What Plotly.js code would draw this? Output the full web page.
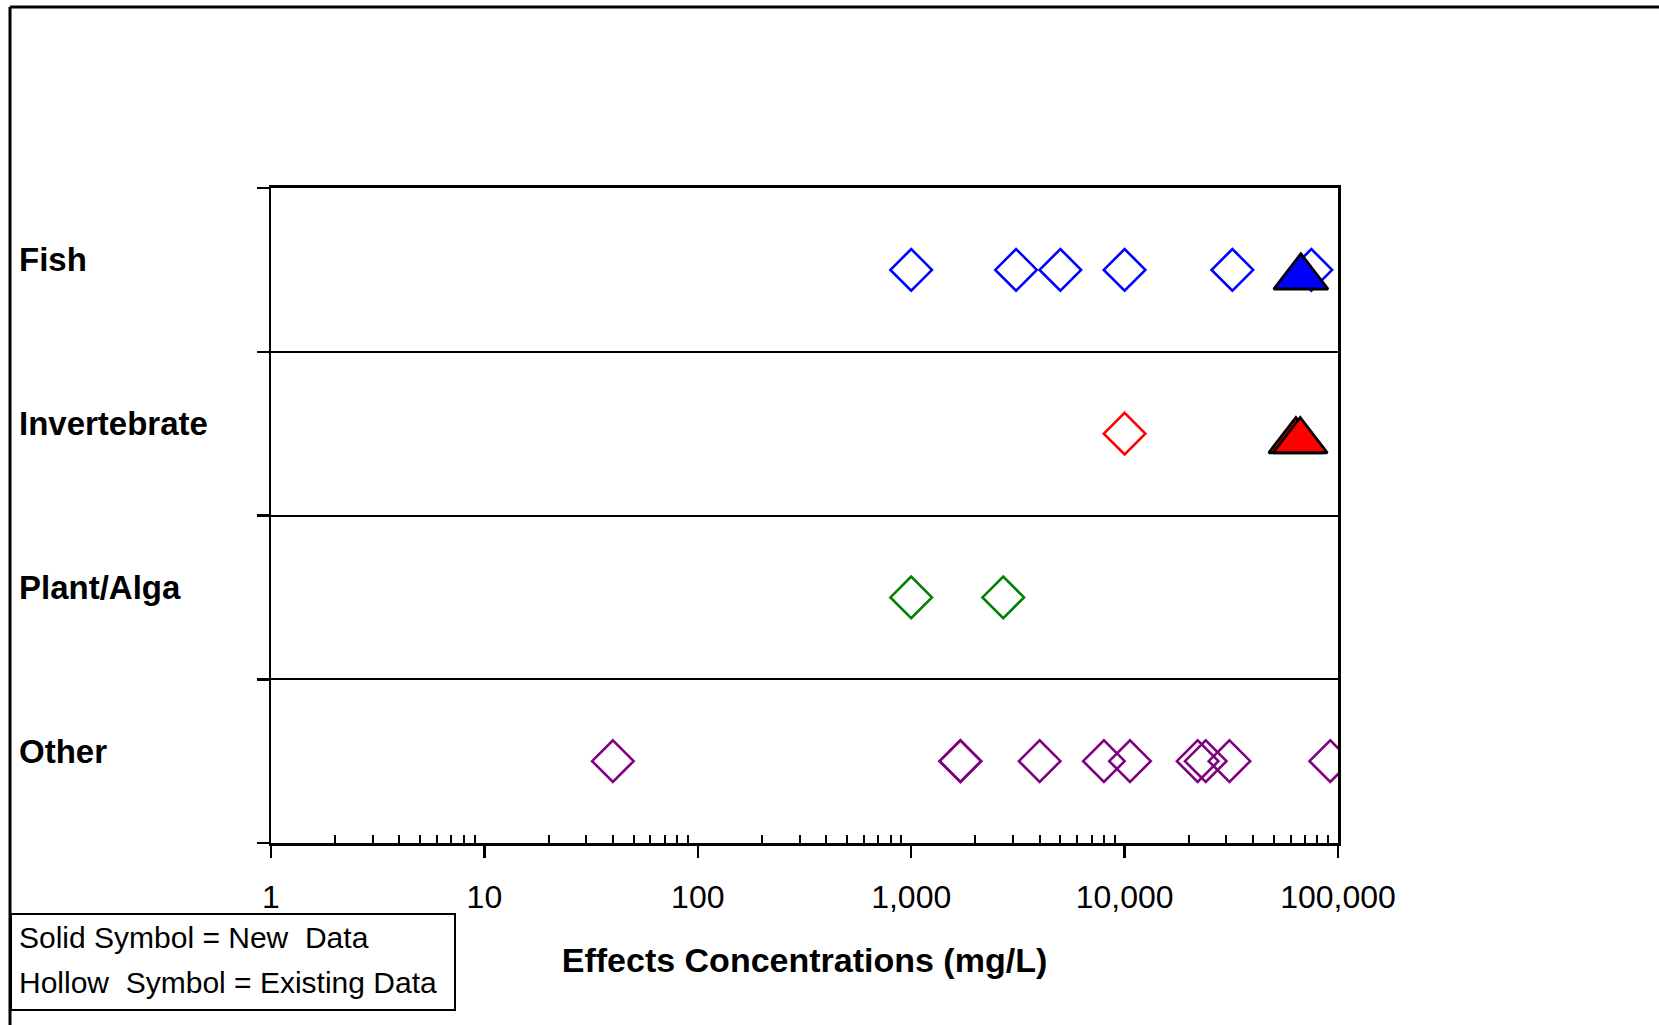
<!DOCTYPE html>
<html>
<head>
<meta charset="utf-8">
<script src="https://cdn.plot.ly/plotly-3.0.1.min.js"></script>
<style>html,body{margin:0;padding:0;background:#fff;}#chart{width:1659px;height:1025px;}</style>
</head>
<body>
<div id="chart"></div>
<script>
// ---- data ----
const categories = ["Fish", "Invertebrate", "Plant/Alga", "Other"];
const categoryRow = [3.5, 2.5, 1.5, 0.5];
const colors = ["#0000FF", "#FF0000", "#008000", "#800080"];

// existing (hollow) data, mg/L
const fishExisting = [1000, 3100, 5000, 10000, 32000, 75000];
const invertExisting = [10000];
const plantExisting = [1000, 2700];
const otherExisting = [40, 1700, 1700, 4000, 8000, 10600, 22000, 24000, 31000, 92000];

// new (solid) data, mg/L
const fishNew = [67000];
const invertNew = [63500, 66500];
const plantNew = [];
const otherNew = [];

const tickVals = [1, 10, 100, 1000, 10000, 100000];
const tickText = ["1", "10", "100", "1,000", "10,000", "100,000"];
const minorVals = [];
[1, 10, 100, 1000, 10000].forEach(d => { for (let k = 2; k <= 9; k++) minorVals.push(k * d); });

const legendLines = ["Solid Symbol = New  Data", "Hollow  Symbol = Existing Data"];
const xTitle = "Effects Concentrations (mg/L)";

// ---- traces ----
const existing = [fishExisting, invertExisting, plantExisting, otherExisting];
const newer = [fishNew, invertNew, plantNew, otherNew];
const traces = [];
existing.forEach((arr, i) => {
  traces.push({
    type: "scatter", mode: "markers",
    x: arr, y: arr.map(() => categoryRow[i]),
    marker: { symbol: "diamond-open", size: 32, color: colors[i], line: { color: colors[i], width: 2.6 } },
    hoverinfo: "skip"
  });
});
newer.forEach((arr, i) => {
  arr.forEach(v => {
    traces.push({
      type: "scatter", mode: "markers",
      x: [v], y: [categoryRow[i]], yaxis: "y2",
      marker: { symbol: "triangle-up", size: 47, color: colors[i], line: { color: "#000", width: 2.8 } },
      hoverinfo: "skip"
    });
  });
});

// ---- layout geometry (pixels) ----
const W = 1659, H = 1025;
const L = 271, R = 1338, T = 188, B = 843;
const pw = R - L, ph = B - T;
const px = v => (v - L) / pw;
const py = v => (B - v) / ph;
const font = "Liberation Sans, Arial, sans-serif";

const annotations = categories.map((c, i) => ({
  text: "<b>" + c + "</b>", xref: "paper", yref: "y", x: px(17), y: categoryRow[i],
  xanchor: "left", yanchor: "middle", yshift: 10, showarrow: false,
  font: { family: font, size: 33, color: "#000" }
}));
legendLines.forEach((t, i) => {
  annotations.push({
    text: t, xref: "paper", yref: "paper", x: px(17), y: py(938 + i * 44),
    xanchor: "left", yanchor: "middle", showarrow: false,
    font: { family: font, size: 30, color: "#000" }
  });
});

const shapes = [
  // outer border (top + left)
  { type: "line", xref: "paper", yref: "paper", x0: px(10), x1: px(W + 5), y0: py(7), y1: py(7), line: { color: "#000", width: 3 } },
  { type: "line", xref: "paper", yref: "paper", x0: px(10), x1: px(10), y0: py(7), y1: py(H + 5), line: { color: "#000", width: 3 } },
  // legend box
  { type: "rect", xref: "paper", yref: "paper", x0: px(11), x1: px(455), y0: py(914), y1: py(1010), line: { color: "#000", width: 2 }, fillcolor: "rgba(0,0,0,0)" }
];

const layout = {
  width: W, height: H,
  margin: { l: L, r: W - R, t: T, b: H - B, pad: 0 },
  paper_bgcolor: "#fff", plot_bgcolor: "#fff",
  showlegend: false,
  font: { family: font, color: "#000" },
  xaxis: {
    type: "log", range: [0, 5],
    tickvals: tickVals, ticktext: tickText,
    ticks: "outside", ticklen: 12, tickwidth: 2.5, tickcolor: "#000",
    ticklabelstandoff: 12,
    tickfont: { family: font, size: 32, color: "#000" },
    minor: { tickvals: minorVals, ticks: "inside", ticklen: 8, tickwidth: 2, tickcolor: "#000", showgrid: false },
    showline: true, linecolor: "#000", linewidth: 3, mirror: true,
    showgrid: false, zeroline: false,
    title: { text: "<b>" + xTitle + "</b>", standoff: 34, font: { family: font, size: 34, color: "#000" } }
  },
  yaxis: {
    range: [0, 4], tickvals: [0, 1, 2, 3, 4], showticklabels: false,
    ticks: "outside", ticklen: 12, tickwidth: 2.5, tickcolor: "#000",
    showline: true, linecolor: "#000", linewidth: 2.5, mirror: true,
    showgrid: true, gridcolor: "#000", gridwidth: 2, zeroline: false, fixedrange: true
  },
  yaxis2: {
    overlaying: "y", range: [0.045, 4.045], visible: false, showgrid: false, zeroline: false
  },
  annotations: annotations,
  shapes: shapes
};

Plotly.newPlot("chart", traces, layout, { staticPlot: true, displayModeBar: false });
</script>
</body>
</html>
